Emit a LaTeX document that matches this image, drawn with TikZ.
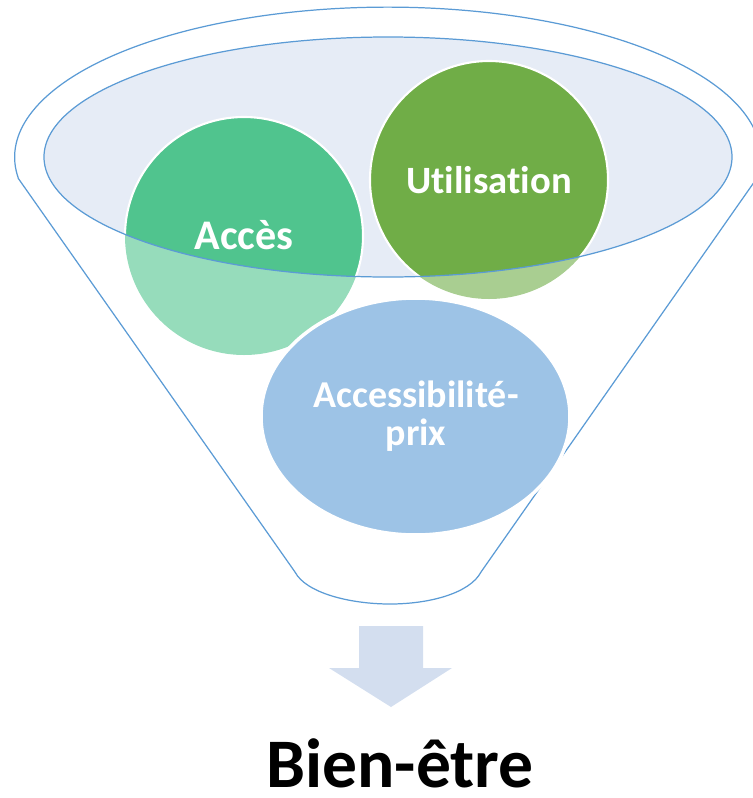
\documentclass[tikz,border=0pt]{standalone}
\usepackage{fontspec}
\setmainfont{Carlito}[Ligatures=NoCommon]
\definecolor{funnelBlue}{RGB}{91,155,213}
\definecolor{rimFill}{RGB}{230,236,246}
\definecolor{accesGreen}{RGB}{80,196,142}
\definecolor{usageGreen}{RGB}{112,173,71}
\definecolor{prixBlue}{RGB}{157,195,230}
\definecolor{arrowBlue}{RGB}{211,222,239}
\begin{document}
\begin{tikzpicture}[x=0.02cm,y=-0.02cm,
  funnelLine/.style={draw=funnelBlue,line width=0.7pt},
  bubbleText/.style={text=white,font=\bfseries\fontsize{24}{29}\selectfont}]
  \useasboundingbox (0,0) rectangle (752,798);
  %% funnel body
  \draw[funnelLine] (18,178) -- (295,572) .. controls (306,593) and (350,604) .. (390,604)
    .. controls (430,604) and (470,593) .. (481,572) -- (757,178)
    arc[start angle=8,end angle=-188,x radius=373,y radius=150];
  %% rim of the funnel
  \fill[rimFill] (388,157) ellipse [x radius=344,y radius=120];
  \fill[accesGreen,fill opacity=0.6] (244,236) circle[radius=119];
  \fill[usageGreen,fill opacity=0.6] (489,180) circle[radius=119];
  \begin{scope}
    \clip (388,157) ellipse [x radius=344,y radius=120];
    \filldraw[fill=accesGreen,draw=white,line width=1.2pt] (244,236) circle[radius=119];
    \filldraw[fill=usageGreen,draw=white,line width=1.2pt] (489,180) circle[radius=119];
  \end{scope}
  \draw[funnelLine] (388,157) ellipse [x radius=344,y radius=120];
  \filldraw[fill=prixBlue,draw=white,line width=2pt] (415.5,416.5) ellipse [x radius=154.5,y radius=118.5];
  \node[bubbleText,anchor=base] (acces) at (244,249) {Accès};
  \node[bubbleText,font=\bfseries\fontsize{22}{26}\selectfont,anchor=base] (utilisation) at (489,193) {Utilisation};
  \node[bubbleText,font=\bfseries\fontsize{21.6}{21.6}\selectfont,align=center] (accessPrix) at (416,416) {Accessibilité-\\prix};
  %% arrow down
  \fill[arrowBlue] (359,626) -- (423,626) -- (423,668) -- (452,668) -- (391,707) -- (329,668) -- (359,668) -- cycle;
  \node[font=\bfseries\fontsize{39.6}{44}\selectfont,anchor=base,inner sep=0pt] (bienEtre) at (400,787) {Bien-être};
\end{tikzpicture}
\end{document}
